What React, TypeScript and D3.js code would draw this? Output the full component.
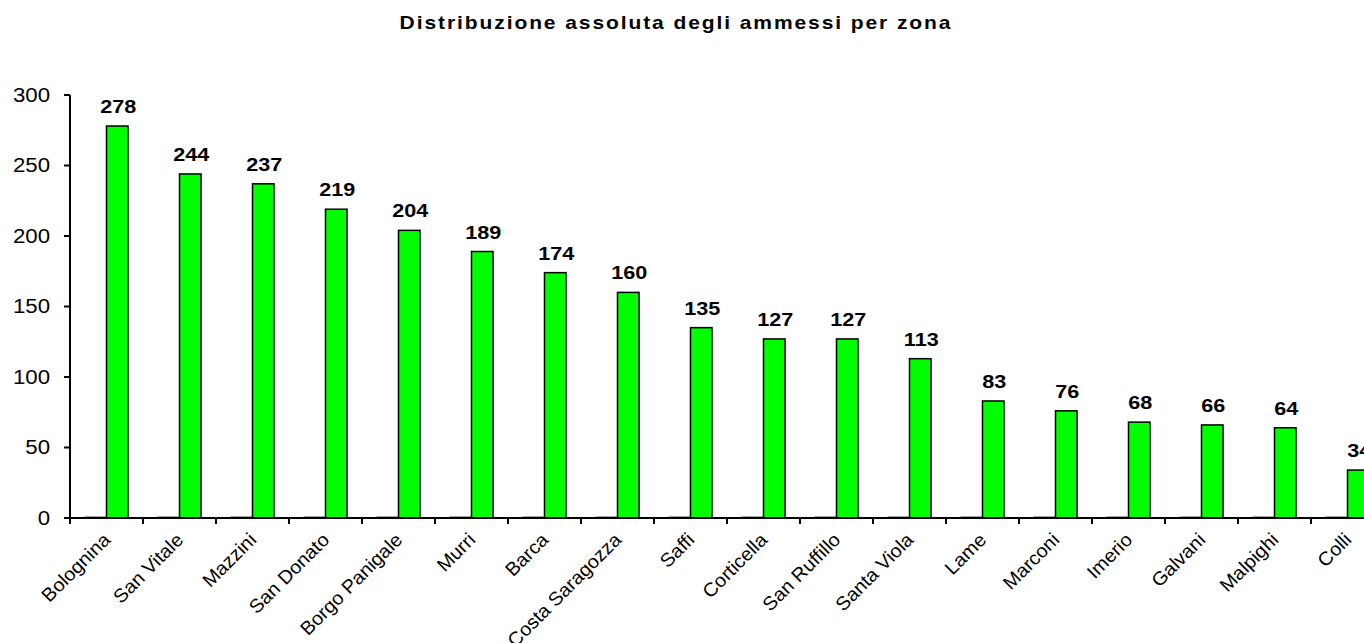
import React from "react";
import * as d3 from "d3";

const categories = ["Bolognina","San Vitale","Mazzini","San Donato","Borgo Panigale","Murri","Barca","Costa Saragozza","Saffi","Corticella","San Ruffillo","Santa Viola","Lame","Marconi","Imerio","Galvani","Malpighi","Colli"];
const ammessi = [278,244,237,219,204,189,174,160,135,127,127,113,83,76,68,66,64,34];
const secondSeries = [0.6,0.6,0.6,0.6,0.6,0.6,0.6,0.6,0.6,0.6,0.6,0.6,0.6,0.6,0.6,0.6,0.6,0.6];
const yTicks = [0,50,100,150,200,250,300];
const title = "Distribuzione assoluta degli ammessi per zona";

export default function App() {
  const W = 1364, H = 643;
  const x0 = 70, x1 = 70 + 73 * 18;
  const yTop = 95, yBot = 518;
  const x = d3.scaleBand<string>().domain(categories).range([x0, x1]);
  const y = d3.scaleLinear().domain([0, 300]).range([yBot, yTop]);
  const barW = 21.5;
  const font = "'Liberation Sans', Arial, sans-serif";
  return (
    <svg width={W} height={H} style={{ position: "absolute", left: 0, top: 0, overflow: "hidden", background: "#fff" }} fontFamily={font}>
      <text transform="translate(676,29) scale(1.2,1)" textAnchor="middle" fontWeight="bold" fontSize={17.5} letterSpacing={1.6}>{title}</text>
      {/* y axis */}
      <line x1={x0} x2={x0} y1={yTop} y2={yBot} stroke="#000" strokeWidth={2} />
      {yTicks.map(t => (
        <g key={t}>
          <line x1={x0 - 6} x2={x0} y1={y(t)} y2={y(t)} stroke="#000" strokeWidth={2} />
          <text transform={`translate(50,${y(t) + 6.5}) scale(1.14,1)`} textAnchor="end" fontSize={19.5}>{t}</text>
        </g>
      ))}
      {/* bars */}
      {categories.map((c, i) => {
        const cx = (x(c) as number) + x.bandwidth() / 2;
        return (
          <g key={c}>
            <rect x={cx - barW} y={y(secondSeries[i])} width={barW} height={yBot - y(secondSeries[i])} fill="#333" stroke="#000" strokeWidth={1} />
            <rect x={cx} y={y(ammessi[i])} width={barW} height={yBot - y(ammessi[i])} fill="#00ff00" stroke="#000" strokeWidth={1.5} />
            <text transform={`translate(${cx + barW / 2 + 1},${y(ammessi[i]) - 13}) scale(1.2,1)`} textAnchor="middle" fontWeight="bold" fontSize={18}>{ammessi[i]}</text>
            <text transform={`translate(${cx + 5},${yBot + 23}) rotate(-45) scale(1.04,1)`} textAnchor="end" fontSize={19}>{c}</text>
          </g>
        );
      })}
      {/* x axis */}
      <line x1={x0} x2={x1} y1={yBot} y2={yBot} stroke="#000" strokeWidth={2} />
      {categories.map(c => (
        <line key={c} x1={x(c) as number} x2={x(c) as number} y1={yBot} y2={yBot + 6} stroke="#000" strokeWidth={2} />
      ))}
    </svg>
  );
}
